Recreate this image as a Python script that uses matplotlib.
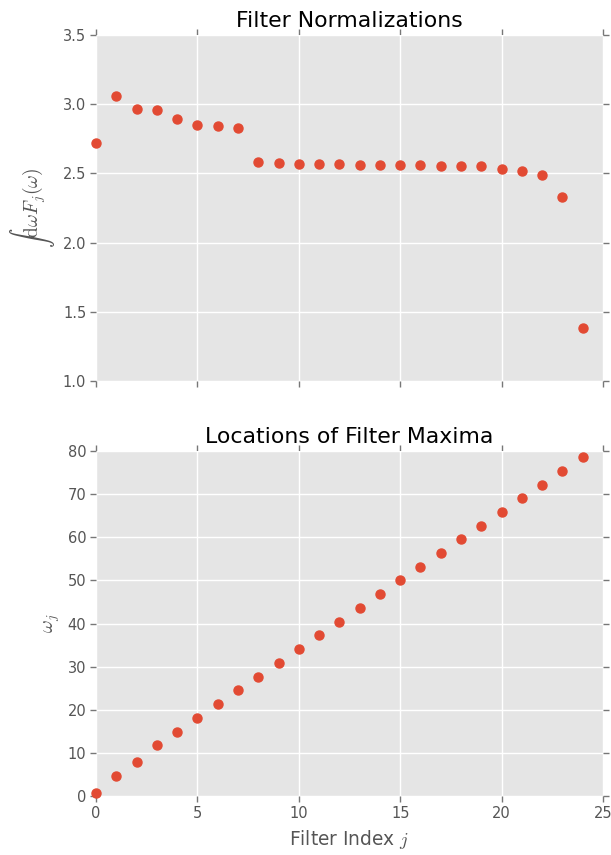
import matplotlib
matplotlib.use('Agg')
import matplotlib.pyplot as plt
import numpy as np


j = np.arange(25)
norms = [2.717, 3.059, 2.963, 2.956, 2.891, 2.852, 2.840, 2.826, 2.580, 2.575,
         2.568, 2.566, 2.566, 2.563, 2.562, 2.561, 2.558, 2.557, 2.555, 2.550,
         2.534, 2.515, 2.486, 2.332, 1.381]
maxima = [0.6, 4.6, 7.8, 11.75, 14.9, 18.1, 21.3, 24.5, 27.7, 30.8,
          34.0, 37.3, 40.4, 43.6, 46.8, 50.0, 53.2, 56.3, 59.5, 62.7,
          65.8, 69.0, 72.2, 75.4, 78.6]

plt.rcParams['mathtext.fontset'] = 'cm'
plt.rcParams['font.family'] = 'DejaVu Sans'

red = '#E24A33'
gray = '#555555'

fig = plt.figure(figsize=(6.11, 8.55), dpi=100)
ax1 = fig.add_axes([96 / 611, 1 - 381 / 855, 507 / 611, 346 / 855])
ax2 = fig.add_axes([96 / 611, 1 - 796 / 855, 507 / 611, 345 / 855])

for ax in (ax1, ax2):
    ax.set_facecolor('#E5E5E5')
    for s in ax.spines.values():
        s.set_visible(False)
    ax.grid(True, color='white', linewidth=1.0)
    ax.set_axisbelow(True)
    ax.tick_params(direction='out', length=4, width=1, color='#777777', labelcolor=gray,
                   labelsize=10.5, top=True, right=True, pad=3)
    ax.set_xlim(0, 25)
    ax.set_xticks([0, 5, 10, 15, 20, 25])

ax1.plot(j, norms, 'o', color=red, markersize=6.5, markeredgecolor=red, clip_on=False)
ax1.set_ylim(1.0, 3.5)
ax1.set_yticks([1.0, 1.5, 2.0, 2.5, 3.0, 3.5])
ax1.tick_params(labelbottom=False)
ax1.set_title('Filter Normalizations', fontsize=15.8, pad=6)
ax1.set_ylabel(r'$\int \mathrm{d}\omega F_j(\omega)$', fontsize=14, color=gray)

ax2.plot(j, maxima, 'o', color=red, markersize=6.5, markeredgecolor=red, clip_on=False)
ax2.set_ylim(0, 80)
ax2.set_yticks(range(0, 81, 10))
ax2.set_title('Locations of Filter Maxima', fontsize=15.8, pad=6)
ax2.set_ylabel(r'$\omega_j$', fontsize=14, color=gray)
ax2.set_xlabel(r'Filter Index $j$', fontsize=13.4, color=gray, labelpad=5)

fig.savefig('out.png', dpi=100)
